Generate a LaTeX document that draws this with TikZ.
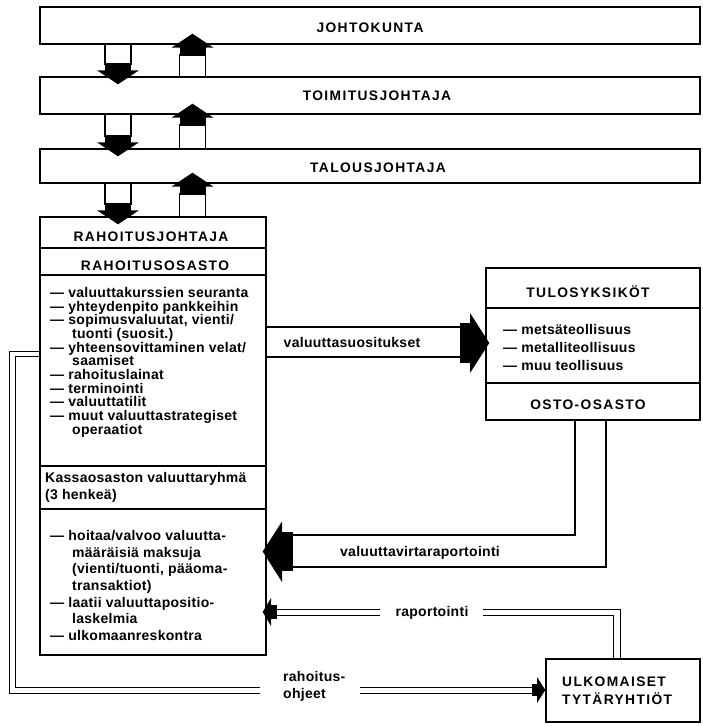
\documentclass[tikz,border=0pt]{standalone}
\usepackage{fontspec}
\setmainfont{Liberation Sans}[LetterSpace=2]
\newfontfamily\hdfont{Liberation Sans}[LetterSpace=10]
\usetikzlibrary{calc}

% text sizes used in the chart (all set in the bold face)
\newcommand\bodysize[1]{\fontsize{14}{#1}\selectfont\bfseries}
\newcommand\headsize{\hdfont\fontsize{13.8}{18}\selectfont\bfseries}

% block arrow pointing down from box #2 into box #3, centred at x = #1
\newcommand\downblk[3]{%
  \coordinate (s) at (#2.south-|#1,0);
  \coordinate (t) at (#3.north-|#1,0);
  \draw[line width=1.1pt,fill=white] ($(s)+(-13,0)$) rectangle ($(t)+(13,-12)$);
  \fill ($(t)+(-13,-13)$) rectangle ($(t)+(13,-5)$);
  \fill ($(t)+(-21,-6)$) -- ($(t)+(21,-6)$) -- ($(t)+(0,8)$) -- cycle;
}
% block arrow pointing up from box #3 into box #2, centred at x = #1
\newcommand\upblk[3]{%
  \coordinate (s) at (#3.north-|#1,0);
  \coordinate (t) at (#2.south-|#1,0);
  \draw[line width=1.1pt,fill=white] ($(s)+(-13,0)$) rectangle ($(t)+(13,10)$);
  \fill ($(t)+(-13,11)$) rectangle ($(t)+(13,2)$);
  \fill ($(t)+(-21,3)$) -- ($(t)+(21,3)$) -- ($(t)+(0,-11)$) -- cycle;
}

\begin{document}
\begin{tikzpicture}[x=1pt,y=-1pt,
  box/.style={draw,line width=1.4pt,inner sep=0pt},
  hd/.style={font=\headsize,inner sep=0pt,anchor=base},
  lbl/.style={font=\bodysize{16},inner sep=0pt,anchor=base},
  txt/.style={inner sep=0pt,align=left,anchor=north west},
  pipe/.style={line width=1.3pt},
  twin/.style={line width=1pt},
]
\useasboundingbox (0,0) rectangle (703,726);

% management chain
\node[box,minimum width=660pt,minimum height=37pt] (jk) at (370,25.5) {};
\node[box,minimum width=660pt,minimum height=37pt] (tj) at (370,95.5) {};
\node[box,minimum width=660pt,minimum height=34pt] (tl) at (370,166) {};
\node[hd] (jkt) at (370,32) {JOHTOKUNTA};
\node[hd] (tjt) at (377,100) {TOIMITUSJOHTAJA};
\node[hd] (tlt) at (378,172) {TALOUSJOHTAJA};

% finance department column
\node[box,minimum width=226pt,minimum height=31pt] (rj) at (153,232.5) {};
\node[box,minimum width=226pt,minimum height=27pt] (ro) at (153,261.5) {};
\node[box,minimum width=226pt,minimum height=191pt] (l1) at (153,370.5) {};
\node[box,minimum width=226pt,minimum height=43pt] (ka) at (153,487.5) {};
\node[box,minimum width=226pt,minimum height=146pt] (l2) at (153,582) {};
\node[hd] (rjt) at (151,241) {RAHOITUSJOHTAJA};
\node[hd] (rot) at (155,270) {RAHOITUSOSASTO};
\node[txt,font=\bodysize{13.7}] (l1t) at (50,287) {%
— valuuttakurssien seuranta\\
— yhteydenpito pankkeihin\\
— sopimusvaluutat, vienti/\\
\hspace*{22pt}tuonti (suosit.)\\
— yhteensovittaminen velat/\\
\hspace*{22pt}saamiset\\
— rahoituslainat\\
— terminointi\\
— valuuttatilit\\
— muut valuuttastrategiset\\
\hspace*{22pt}operaatiot};
\node[txt,font=\bodysize{17}] (kat) at (45,472) {%
Kassaosaston valuuttaryhmä\\(3 henkeä)};
\node[txt,font=\bodysize{16.7}] (l2t) at (50,530) {%
— hoitaa/valvoo valuutta-\\
\hspace*{22pt}määräisiä maksuja\\
\hspace*{22pt}(vienti/tuonti, pääoma-\\
\hspace*{22pt}transaktiot)\\
— laatii valuuttapositio-\\
\hspace*{22pt}laskelmia\\
— ulkomaanreskontra};

% profit units
\node[box,minimum width=214pt,minimum height=40pt] (tu) at (593,288) {};
\node[box,minimum width=214pt,minimum height=75pt] (ti) at (593,345.5) {};
\node[box,minimum width=214pt,minimum height=37pt] (oo) at (593,401.5) {};
\node[hd] (tut) at (588,297) {TULOSYKSIKÖT};
\node[hd] (oot) at (588,409) {OSTO-OSASTO};
\node[txt,font=\bodysize{18}] (tit) at (503,324) {%
— metsäteollisuus\\
— metalliteollisuus\\
— muu teollisuus};

% foreign subsidiaries
\node[box,minimum width=154pt,minimum height=63pt] (ut) at (623,690.5) {};
\node[txt,font=\headsize] (utt) at (562,677) {ULKOMAISET\\TYTÄRYHTIÖT};

% reporting chain arrows
\downblk{118}{jk}{tj}
\downblk{118}{tj}{tl}
\downblk{118}{tl}{rj}
\upblk{192.5}{jk}{tj}
\upblk{192.5}{tj}{tl}
\upblk{192.5}{tl}{rj}

% currency recommendations
\draw[pipe] (l1.east|-0,327) -- (461,327);
\draw[pipe] (l1.east|-0,357) -- (461,357);
\fill (460,323) rectangle (471,363);
\fill (470,313) -- ($(ti.west|-0,343)+(4,0)$) -- (470,373) -- cycle;
\node[lbl] (vst) at (352,347) {valuuttasuositukset};

% currency flow reporting
\draw[pipe] (oo.south-|575,0) -- (575,535) -- (292,535);
\draw[pipe] (oo.south-|606,0) -- (606,567) -- (292,567);
\fill (281,532) rectangle (293,571);
\fill (282,521.5) -- (282,582) -- ($(l2.east|-0,551.5)+(-4,0)$) -- cycle;
\node[lbl] (vvt) at (420,556) {valuuttavirtaraportointi};

% subsidiary reporting
\draw[twin] (ut.north-|613,0) -- (613,615) -- (483,615);
\draw[twin] (ut.north-|620,0) -- (620,609) -- (483,609);
\draw[twin] (380,609) -- (276,609);
\draw[twin] (380,615) -- (276,615);
\fill (270,605) rectangle (277,619);
\fill (271,598) -- (271,626) -- ($(l2.east|-0,612)+(-4,0)$) -- cycle;
\node[lbl] (rpt) at (432,616) {raportointi};

% financing instructions
\draw[twin] (l1.west|-0,351) -- (9,351) -- (9,693) -- (260,693);
\draw[twin] (l1.west|-0,356) -- (15,356) -- (15,687) -- (260,687);
\draw[twin] (360,693) -- (536,693);
\draw[twin] (360,687) -- (536,687);
\fill (532,684) rectangle (538,696);
\fill (537,677) -- (537,703) -- (ut.west|-0,690) -- cycle;
\node[txt,font=\bodysize{17}] (roh) at (283,671) {rahoitus-\\ohjeet};
\end{tikzpicture}
\end{document}
